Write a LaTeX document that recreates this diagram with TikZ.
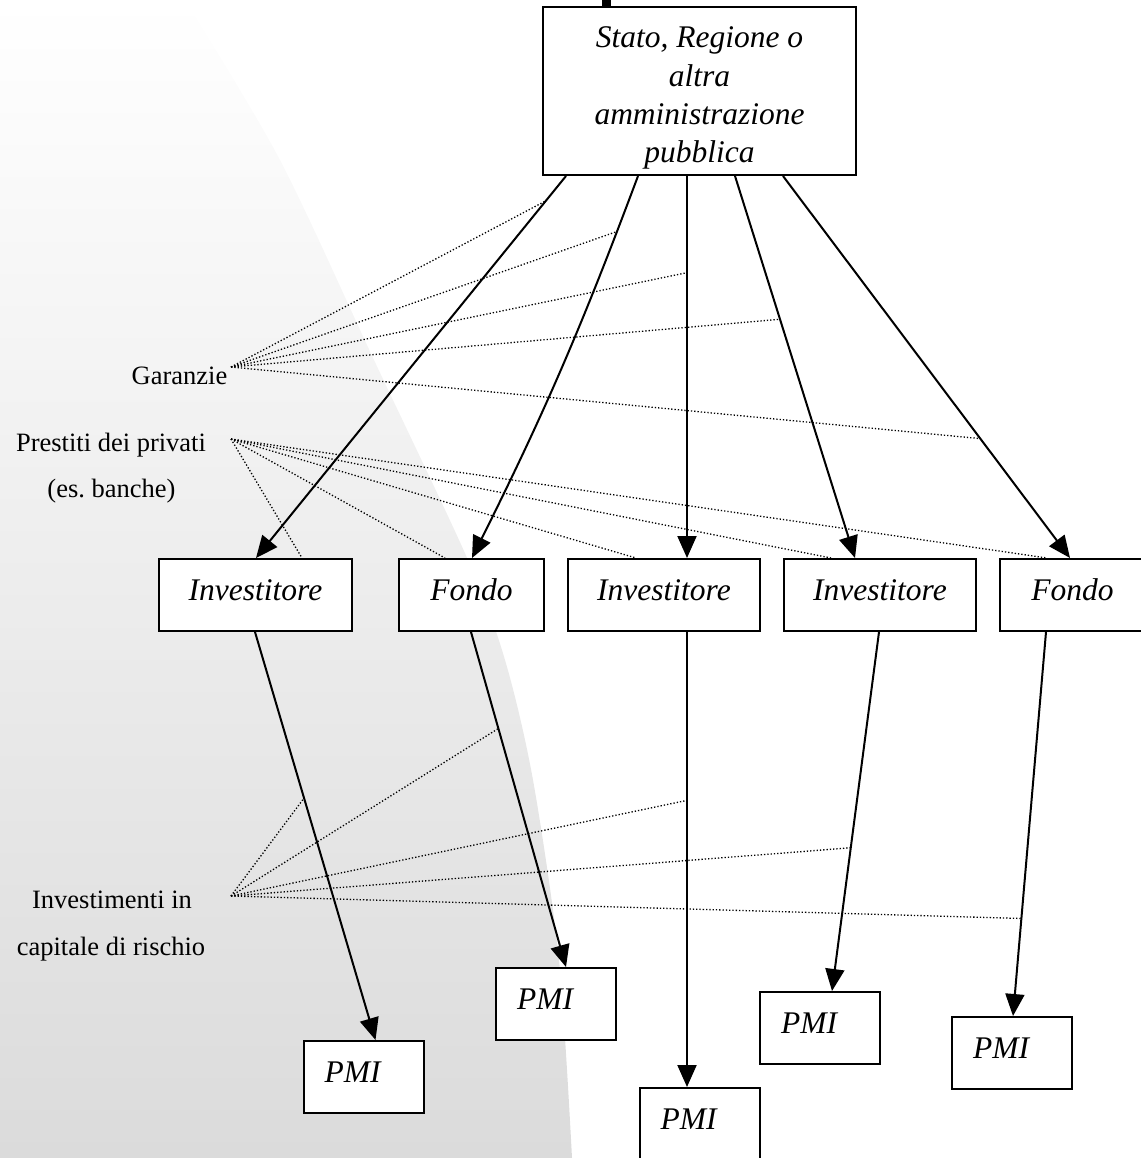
\documentclass[tikz,border=0pt]{standalone}
\usepackage{fontspec}
\setmainfont{Liberation Serif}
\usetikzlibrary{arrows.meta,calc}
\definecolor{bgtop}{RGB}{255,255,255}
\definecolor{bgbot}{RGB}{219,219,219}
\begin{document}
\begin{tikzpicture}[x=1pt,y=-1pt,
  box/.style={draw, line width=2pt, fill=white, inner sep=0pt, font=\itshape\fontsize{31.5}{38.3}\selectfont},
  mbox/.style={box, minimum height=72pt, text height=21.5pt, text depth=10pt},
  pmibox/.style={mbox, minimum width=120pt, execute at end node={\hspace*{22pt}}},
  lbl/.style={font=\fontsize{26.5}{32}\selectfont, inner sep=0pt, anchor=base},
  arr/.style={line width=2pt, -{Triangle[length=22pt,width=19pt]}},
  dotline/.style={line width=1.3pt, dash pattern=on 1.3pt off 2pt}
]
\useasboundingbox (0,0) rectangle (1140,1158);
% slide background
\shade[top color=bgtop, bottom color=bgbot] (0,0) -- plot[smooth] coordinates {(185,0) (280,160) (374,360) (468,560) (505,660) (533,780) (559,960) (572,1158)} -- (0,1158) -- cycle;
\fill (602,0) rectangle (611,7);

% top box
\node[box, minimum width=313pt, minimum height=168pt] (top) at (699.5,91) {};
\node[font=\itshape\fontsize{31.5}{38.3}\selectfont, align=center, inner sep=0pt] (toptext) at (699.5,98.2) {Stato, Regione o\\altra\\amministrazione\\pubblica};

% middle row
\node[mbox, minimum width=193pt] (inv1) at (255.5,595) {Investitore};
\node[mbox, minimum width=145pt] (fon1) at (471.5,595) {Fondo};
\node[mbox, minimum width=192pt] (inv3) at (664,595) {Investitore};
\node[mbox, minimum width=192pt] (inv4) at (880,595) {Investitore};
\node[mbox, minimum width=145pt] (fon5) at (1072.5,595) {Fondo};

% PMI row
\node[pmibox] (pmi1) at (363.5,1077) {PMI};
\node[pmibox] (pmi2) at (556,1004) {PMI};
\node[pmibox] (pmi3) at (699.5,1124) {PMI};
\node[pmibox] (pmi4) at (820,1028) {PMI};
\node[pmibox] (pmi5) at (1012,1053) {PMI};

% labels
\node[lbl] (gar) at (179.5,384) {Garanzie};
\node[lbl] (pre1) at (111,451) {Prestiti dei privati};
\node[lbl] (pre2) at (111.5,497) {(es.\ banche)};
\node[lbl] (cap1) at (112,908) {Investimenti in};
\node[lbl] (cap2) at (111,955) {capitale di rischio};

\coordinate (gq) at (231,367);
\coordinate (pq) at (231,439);
\coordinate (iq) at (231,896);

% arrows from top box
\draw[arr] ($(top.south west)+(24,0)$) -- coordinate[pos=0.065] (g1) ($(inv1.north west)+(98,0)$);
\draw[arr] ($(top.south west)+(96,0)$) to[bend left=3] coordinate[pos=0.128] (g2) ($(fon1.north west)+(74,0)$);
\draw[arr] ($(top.south west)+(145,0)$) -- coordinate[pos=0.253] (g3) ($(inv3.north west)+(120,0)$);
\draw[arr] ($(top.south west)+(193,0)$) -- coordinate[pos=0.375] (g4) ($(inv4.north west)+(72,0)$);
\draw[arr] ($(top.south west)+(241,0)$) -- coordinate[pos=0.6875] (g5) ($(fon5.north west)+(71,0)$);

% arrows to PMI
\draw[arr] ($(inv1.south west)+(97,0)$) -- coordinate[pos=0.407] (i1) ($(pmi1.north west)+(73,0)$);
\draw[arr] ($(fon1.south west)+(73,0)$) -- coordinate[pos=0.288] (i2) ($(pmi2.north west)+(71,0)$);
\draw[arr] ($(inv3.south west)+(120,0)$) -- coordinate[pos=0.37] (i3) ($(pmi3.north west)+(48.5,0)$);
\draw[arr] ($(inv4.south west)+(96,0)$) -- coordinate[pos=0.601] (i4) ($(pmi4.north west)+(73,0)$);
\draw[arr] ($(fon5.south west)+(47,0)$) -- coordinate[pos=0.746] (i5) ($(pmi5.north west)+(62,0)$);

% dotted links
\foreach \c in {g1,g2,g3,g4,g5} \draw[dotline] (gq) -- (\c);
\foreach \c/\o in {inv1/144, fon1/47, inv3/69, inv4/48, fon5/48} \draw[dotline] (pq) -- ($(\c.north west)+(\o,0)$);
\foreach \c in {i1,i2,i3,i4,i5} \draw[dotline] (iq) -- (\c);
\end{tikzpicture}
\end{document}
